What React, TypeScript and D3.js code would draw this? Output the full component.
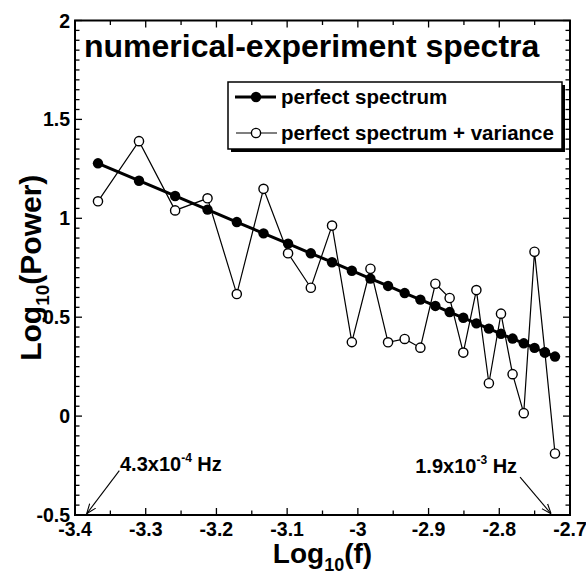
import React from "react";
import * as d3 from "d3";

// log10 of frequency (harmonics 7..31)
const logFreq = [
  -3.3675, -3.3095, -3.2584, -3.2126, -3.1712, -3.1334, -3.0987, -3.0665, -3.0365,
  -3.0085, -2.9822, -2.9573, -2.9338, -2.9116, -2.8904, -2.8702, -2.8509, -2.8324,
  -2.8147, -2.7976, -2.7812, -2.7654, -2.7502, -2.7355, -2.7212,
];
const perfect = [
  1.278, 1.19, 1.113, 1.044, 0.981, 0.924, 0.872, 0.823, 0.778, 0.735, 0.695, 0.658,
  0.622, 0.589, 0.557, 0.526, 0.497, 0.469, 0.442, 0.416, 0.392, 0.368, 0.345, 0.322, 0.301,
];
const withVariance = [
  1.086, 1.39, 1.04, 1.101, 0.617, 1.149, 0.823, 0.649, 0.963, 0.374, 0.745, 0.373,
  0.39, 0.346, 0.669, 0.597, 0.321, 0.637, 0.166, 0.518, 0.212, 0.015, 0.831, 0.322, -0.189,
];
const xTicks = [-3.4, -3.3, -3.2, -3.1, -3.0, -2.9, -2.8, -2.7];
const xTickLabels = ["-3.4", "-3.3", "-3.2", "-3.1", "-3", "-2.9", "-2.8", "-2.7"];
const yTicks = [-0.5, 0, 0.5, 1, 1.5, 2];
const yTickLabels = ["-0.5", "0", "0.5", "1", "1.5", "2"];
const legendLabels = ["perfect spectrum", "perfect spectrum + variance"];
const titleText = "numerical-experiment spectra";
// annotations: [text start/end, arrow start, arrow tip] in data units
const annLeft = { text: [-3.3364, -0.28], from: [-3.3373, -0.276], to: [-3.3835, -0.494] };
const annRight = { text: [-2.7748, -0.288], from: [-2.7706, -0.308], to: [-2.7267, -0.494] };

const W = 586;
const H = 574;
const FONT = "'Liberation Sans', Arial, Helvetica, sans-serif";

export default function App() {
  const x = d3.scaleLinear().domain([-3.4, -2.7]).range([75, 570]);
  const y = d3.scaleLinear().domain([-0.5, 2]).range([515, 20.5]);
  const [x0, x1] = x.range();
  const [y0, y1] = y.range();

  const xMinor = x.ticks(14);
  const yMinor = y.ticks(50);
  const isMajor = (v: number, arr: number[]) => arr.some((a) => Math.abs(a - v) < 1e-6);

  const line = d3
    .line<number>()
    .x((_, i) => x(logFreq[i]))
    .y((d) => y(d));

  return (
    <svg
      width={W}
      height={H}
      style={{ position: "absolute", left: 0, top: 0, background: "#fff" }}
      fontFamily={FONT}
    >
      <defs>
        <marker
          id="openArrow"
          viewBox="0 0 10 10"
          refX="10"
          refY="5"
          markerWidth="10"
          markerHeight="10"
          markerUnits="userSpaceOnUse"
          orient="auto"
        >
          <path d="M0,1.2 L10,5 L0,8.8" fill="none" stroke="#000" strokeWidth="1.1" />
        </marker>
      </defs>
      <rect x={0} y={0} width={W} height={H} fill="#fff" />

      {/* ticks on four sides */}
      {xMinor.map((v) => {
        const L = isMajor(v, xTicks) ? 7 : 4.5;
        return (
          <g key={"xt" + v} stroke="#000" strokeWidth={1.3}>
            <line x1={x(v)} x2={x(v)} y1={y0} y2={y0 - L} />
            <line x1={x(v)} x2={x(v)} y1={y1} y2={y1 + L} />
          </g>
        );
      })}
      {yMinor.map((v) => {
        const L = isMajor(v, yTicks) ? 7 : 4.5;
        return (
          <g key={"yt" + v} stroke="#000" strokeWidth={1.3}>
            <line x1={x0} x2={x0 + L} y1={y(v)} y2={y(v)} />
            <line x1={x1} x2={x1 - L} y1={y(v)} y2={y(v)} />
          </g>
        );
      })}

      {/* frame */}
      <rect
        x={x0}
        y={y1}
        width={x1 - x0}
        height={y0 - y1}
        fill="none"
        stroke="#000"
        strokeWidth={2}
      />

      {/* tick labels */}
      {xTicks.map((v, i) => (
        <text
          key={"xl" + i}
          x={x(v)}
          y={y0 + 20.5}
          textAnchor="middle"
          fontSize={19.5}
          fontWeight="bold"
        >
          {xTickLabels[i]}
        </text>
      ))}
      {yTicks.map((v, i) => (
        <text
          key={"yl" + i}
          x={x0 - 5}
          y={y(v) + 7}
          textAnchor="end"
          fontSize={19.5}
          fontWeight="bold"
        >
          {yTickLabels[i]}
        </text>
      ))}

      {/* axis titles */}
      <text x={(x0 + x1) / 2} y={563} textAnchor="middle" fontSize={28} fontWeight="bold">
        Log
        <tspan fontSize={18} dy={8}>
          10
        </tspan>
        <tspan dy={-8}>(f)</tspan>
      </text>
      <text
        transform={`translate(41,${(y0 + y1) / 2}) rotate(-90)`}
        textAnchor="middle"
        fontSize={30}
        fontWeight="bold"
      >
        Log
        <tspan fontSize={19} dy={8}>
          10
        </tspan>
        <tspan dy={-8}>(Power)</tspan>
      </text>

      {/* title */}
      <text x={84} y={57} fontSize={32} fontWeight="bold">
        {titleText}
      </text>

      {/* series: perfect + variance */}
      <path d={line(withVariance) || ""} fill="none" stroke="#000" strokeWidth={1.2} />
      {withVariance.map((v, i) => (
        <circle
          key={"ov" + i}
          cx={x(logFreq[i])}
          cy={y(v)}
          r={4.6}
          fill="#fff"
          stroke="#000"
          strokeWidth={1.4}
        />
      ))}
      <path d={line(perfect) || ""} fill="none" stroke="#000" strokeWidth={3} />
      {perfect.map((v, i) => (
        <circle key={"pf" + i} cx={x(logFreq[i])} cy={y(v)} r={5.2} fill="#000" />
      ))}

      {/* legend */}
      <rect x={231} y={85} width={334} height={67} fill="#000" />
      <rect x={228} y={82} width={334} height={67} fill="#fff" stroke="#000" strokeWidth={1.5} />
      <line x1={235} x2={276} y1={97} y2={97} stroke="#000" strokeWidth={3} />
      <circle cx={256} cy={97} r={5.2} fill="#000" />
      <text x={281} y={104} fontSize={20.5} fontWeight="bold">
        {legendLabels[0]}
      </text>
      <line x1={236} x2={277} y1={133} y2={133} stroke="#000" strokeWidth={1.2} />
      <circle cx={256} cy={133} r={4.6} fill="#fff" stroke="#000" strokeWidth={1.4} />
      <text x={281} y={140} fontSize={20.5} fontWeight="bold">
        {legendLabels[1]}
      </text>

      {/* annotations */}
      <line
        x1={x(annLeft.from[0])}
        y1={y(annLeft.from[1])}
        x2={x(annLeft.to[0])}
        y2={y(annLeft.to[1])}
        stroke="#000"
        strokeWidth={1.1}
        markerEnd="url(#openArrow)"
      />
      <text x={x(annLeft.text[0])} y={y(annLeft.text[1])} fontSize={20} fontWeight="bold">
        4.3x10
        <tspan fontSize={12} dy={-9}>
          -4
        </tspan>
        <tspan dy={9}> Hz</tspan>
      </text>
      <line
        x1={x(annRight.from[0])}
        y1={y(annRight.from[1])}
        x2={x(annRight.to[0])}
        y2={y(annRight.to[1])}
        stroke="#000"
        strokeWidth={1.1}
        markerEnd="url(#openArrow)"
      />
      <text
        x={x(annRight.text[0])}
        y={y(annRight.text[1])}
        textAnchor="end"
        fontSize={20}
        fontWeight="bold"
      >
        1.9x10
        <tspan fontSize={12} dy={-9}>
          -3
        </tspan>
        <tspan dy={9}> Hz</tspan>
      </text>
    </svg>
  );
}
